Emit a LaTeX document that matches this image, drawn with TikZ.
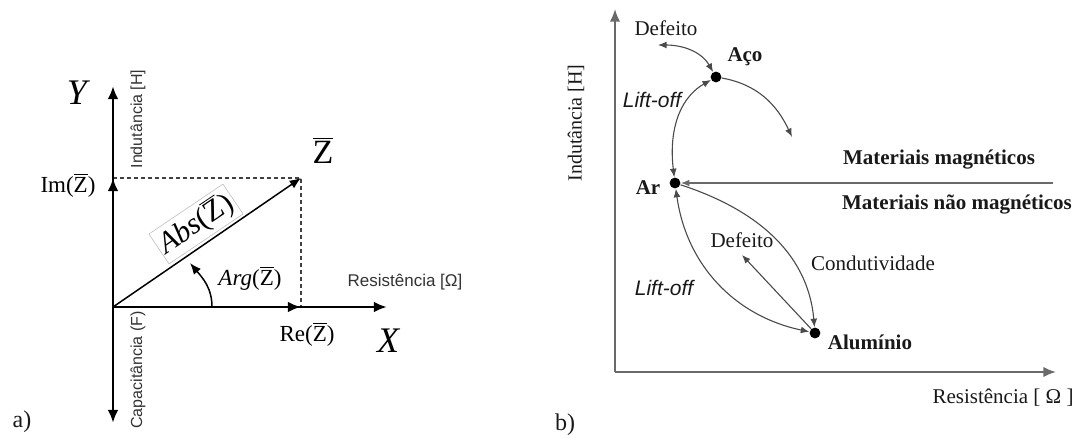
\documentclass[tikz,border=0pt]{standalone}
\usepackage{fontspec}
\setmainfont{Liberation Serif}
\setsansfont{Liberation Sans}
\usepackage{xcolor}
\usepackage{tikz}
\usetikzlibrary{arrows.meta,positioning,calc}
\definecolor{AxisGray}{HTML}{6A6A6A}
\definecolor{CurveGray}{HTML}{4A4A4A}
\definecolor{LabelGray}{HTML}{333333}
\newcommand{\ovZ}{$\overline{\mbox{Z}}$}

\begin{document}
\begin{tikzpicture}[
  x=0.5pt,y=-0.5pt,
  axis/.style={draw=black,line width=1.3pt,-{Latex[length=2.3mm,width=1.9mm]}},
  vec/.style={draw=black,line width=.75pt,-{Latex[length=2mm,width=1.6mm]}},
  guide/.style={draw=black!75,line width=.6pt,dash pattern=on 2pt off 1.5pt},
  baxis/.style={draw=AxisGray,line width=.9pt,-{Latex[length=2.2mm,width=1.8mm]}},
  curve/.style={draw=CurveGray,line width=.55pt,-{Latex[length=1.5mm,width=1.2mm]}},
  both/.style={draw=CurveGray,line width=.55pt,{Latex[length=1.5mm,width=1.2mm]}-{Latex[length=1.5mm,width=1.2mm]}},
  dot/.style={circle,fill=black,inner sep=0pt,minimum size=1.9mm},
  lbl/.style={inner sep=0pt,font=\fontsize{10.5}{12}\selectfont,text=black!90},
  blbl/.style={lbl,font=\fontsize{10.5}{12}\selectfont\bfseries},
  slbl/.style={inner sep=0pt,font=\sffamily\fontsize{8}{9}\selectfont,text=LabelGray},
  mlbl/.style={inner sep=0pt,font=\fontsize{11.5}{13}\selectfont},
  big/.style={inner sep=0pt,font=\fontsize{18}{20}\selectfont}
]
\useasboundingbox (0,0) rectangle (1078,438);
% a) impedance plane
\coordinate (O) at (113,307);
\coordinate (ytop) at (113,86);
\coordinate (ybot) at (113,423);
\coordinate (xend) at (387,307);
\coordinate (im) at (113,178);
\coordinate (re) at (301,307);
\coordinate (ztip) at (301,178);
\coordinate (arg0) at (212,307);
\coordinate (arg1) at (190,263);
\draw[guide] (im) -- (ztip) -- (re);
\draw[axis] (O) -- (ytop);
\draw[axis] (O) -- (ybot);
\draw[axis] (O) -- (xend);
\draw[axis] (O) -- (im);
\draw[axis] (O) -- (re);
\draw[vec] (O) -- (ztip);
\draw[vec] (arg0) to[out=90,in=-50] (arg1);
\node[big,font=\fontsize{18}{20}\selectfont\itshape] (ylab) at (77,93) {Y};
\node[big,font=\fontsize{18}{20}\selectfont\itshape] (xlab) at (388,341) {X};
\node[big,font=\fontsize{17}{19}\selectfont] (zlab) at (323,150) {\ovZ};
\node[mlbl] (imlab) at (68,185) {Im(\ovZ)};
\node[mlbl] (relab) at (307,334) {Re(\ovZ)};
\node[mlbl] (arglab) at (250,278) {\textit{Arg}(\ovZ)};
\node[draw=black!25,line width=.3pt,inner sep=1.5pt,rotate=34,font=\fontsize{15}{17}\selectfont] (abslab) at (196,224) {\textit{Abs}(\ovZ)};
\node[slbl,rotate=90] (indA) at (138,119) {Indutância [H]};
\node[slbl,rotate=90] (capA) at (138,370) {Capacitância (F)};
\node[slbl,font=\sffamily\fontsize{8.5}{10}\selectfont] (resA) at (405,282) {Resistência [Ω]};
\node[lbl,font=\fontsize{12}{13}\selectfont] (pa) at (22,422) {a)};
% b) material response
\coordinate (B0) at (615,372);
\coordinate (btop) at (615,9);
\coordinate (bx) at (1056,372);
\draw[baxis] (B0) -- (btop);
\draw[baxis] (B0) -- (bx);
\node[dot] (aco) at (716,77) {};
\node[dot] (ar) at (675,183) {};
\node[dot] (alu) at (815,333) {};
\coordinate (mag) at (1053,183);
\coordinate (def1) at (658,45);
\coordinate (drift) at (792,137);
\coordinate (def2) at (742,255);
\draw[curve,draw=AxisGray,line width=.8pt] (mag) -- (ar);
\draw[both] (def1) to[out=0,in=120] (aco);
\draw[curve] (aco) to[out=-10,in=115] (drift);
\draw[both] (ar) to[out=97,in=210] (aco);
\draw[both] (ar) to[out=-82,in=168] (alu);
\draw[curve] (ar) to[out=-18,in=95] (alu);
\draw[curve] (alu) -- (def2);
\node[lbl,rotate=90,font=\fontsize{10}{12}\selectfont] (indB) at (576,123) {Indutância [H]};
\node[lbl] (resB) at (1003,398) {Resistência [ Ω ]};
\node[lbl,font=\fontsize{12}{13}\selectfont] (pb) at (565,425) {b)};
\node[lbl] (defA) at (666,28) {Defeito};
\node[blbl] (acolab) at (745,57) {Aço};
\node[lbl,font=\sffamily\itshape\fontsize{10.5}{12}\selectfont] (liftA) at (652,100) {Lift-off};
\node[blbl] (arlab) at (648,188) {Ar};
\node[blbl] (magA) at (939,160) {Materiais magnéticos};
\node[blbl] (magB) at (957,205) {Materiais não magnéticos};
\node[lbl] (defB) at (742,240) {Defeito};
\node[lbl] (cond) at (873,263) {Condutividade};
\node[lbl,font=\sffamily\itshape\fontsize{10.5}{12}\selectfont] (liftB) at (664,288) {Lift-off};
\node[blbl] (alulab) at (870,342) {Alumínio};
\end{tikzpicture}
\end{document}
